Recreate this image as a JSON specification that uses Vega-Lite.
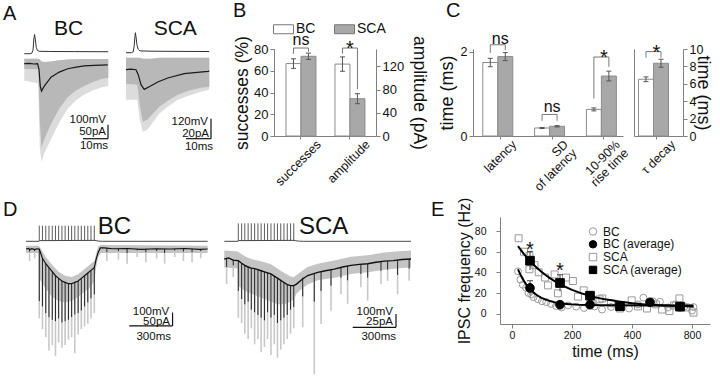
{
"$schema": "https://vega.github.io/schema/vega-lite/v6.json",
"background": "white",
"padding": {"left": 2, "top": 0, "right": 6, "bottom": 2},
"spacing": 0,
"bounds": "full",
"config": {
 "font": "Liberation Sans",
 "view": {"stroke": null},
 "axis": {"grid": false, "domainColor": "#808080", "tickColor": "#808080", "labelColor": "#111111", "titleColor": "#111111", "titleFontWeight": "normal", "labelFont": "Liberation Sans", "titleFont": "Liberation Sans", "tickSize": 4, "labelPadding": 2},
 "axisBand": {"labelAngle": -45, "labelAlign": "right", "labelBaseline": "middle", "labelOffset": 16},
 "title": {"fontWeight": "normal", "fontSize": 20, "anchor": "start", "frame": "group", "font": "Liberation Sans", "baseline": "alphabetic", "color": "#111111"},
 "legend": {"labelFont": "Liberation Sans", "labelColor": "#111111"},
 "text": {"font": "Liberation Sans", "color": "#111111"}
},
"resolve": {"scale": {"fill": "independent", "stroke": "independent", "shape": "independent"}},
"datasets": {
 "aBCband": [{"t":0,"hi":18,"lo":-18,"lo2":-60},{"t":5.6,"hi":18,"lo":-20,"lo2":-70},{"t":6.2,"hi":15,"lo":-200,"lo2":-300},{"t":6.9,"hi":8,"lo":-300,"lo2":-351},{"t":8.0,"hi":6,"lo":-270,"lo2":-320},{"t":10.7,"hi":8,"lo":-215,"lo2":-270},{"t":14.0,"hi":12,"lo":-160,"lo2":-210},{"t":17.4,"hi":15,"lo":-120,"lo2":-160},{"t":20.8,"hi":16,"lo":-95,"lo2":-130},{"t":24.0,"hi":17,"lo":-80,"lo2":-110},{"t":27.5,"hi":17,"lo":-65,"lo2":-95},{"t":30.8,"hi":17,"lo":-55,"lo2":-85},{"t":33.6,"hi":17,"lo":-50,"lo2":-80}],
 "aBCavg": [{"t":0,"v":0},{"t":2,"v":1},{"t":4,"v":-1},{"t":5.3,"v":0},{"t":5.9,"v":-20},{"t":6.4,"v":-80},{"t":6.9,"v":-98},{"t":8,"v":-80},{"t":10.7,"v":-48},{"t":14,"v":-30},{"t":17.4,"v":-18},{"t":20.8,"v":-12},{"t":24,"v":-8},{"t":28,"v":-6},{"t":33.4,"v":-4}],
 "aBCap": [{"t":0,"v":-65},{"t":2.4,"v":-65},{"t":3.0,"v":-62},{"t":3.5,"v":-40},{"t":3.85,"v":40},{"t":4.1,"v":72},{"t":4.4,"v":40},{"t":4.8,"v":-20},{"t":5.3,"v":-42},{"t":6,"v":-48},{"t":10,"v":-49},{"t":20,"v":-50},{"t":33.6,"v":-51}],
 "aBCbar": [{"t":23.5,"v":-267.9,"t2":33.5,"v2":-267.9},{"t":33.5,"v":-267.9,"t2":33.5,"v2":-217.9}],
 "aBClab": [{"label":"100mV","t":32.7,"v":-210.7},{"label":"50pA","t":32.7,"v":-255.7},{"label":"10ms","t":33.5,"v":-304.6}],
 "aSCAband": [{"t":0,"hi":12,"lo":-14,"lo2":-30},{"t":4.5,"hi":12,"lo":-15,"lo2":-30},{"t":5.5,"hi":12,"lo":-35,"lo2":-50},{"t":6.7,"hi":11,"lo":-52,"lo2":-62},{"t":8.5,"hi":11,"lo":-50,"lo2":-60},{"t":10,"hi":11,"lo":-46,"lo2":-55},{"t":13.3,"hi":12,"lo":-37,"lo2":-44},{"t":16.7,"hi":12,"lo":-31,"lo2":-37},{"t":20.7,"hi":12,"lo":-25,"lo2":-30},{"t":25,"hi":12,"lo":-21,"lo2":-26},{"t":29.9,"hi":12,"lo":-18,"lo2":-22},{"t":33.3,"hi":12,"lo":-17,"lo2":-20}],
 "aSCAavg": [{"t":0,"v":0},{"t":2,"v":0.5},{"t":4,"v":0},{"t":4.9,"v":-5},{"t":6,"v":-15},{"t":7.3,"v":-19.7},{"t":9.3,"v":-17},{"t":12.7,"v":-12.3},{"t":16.7,"v":-8.3},{"t":23.3,"v":-4},{"t":32.7,"v":-1.7},{"t":33.3,"v":-1.5}],
 "aSCAap": [{"t":0,"v":-65},{"t":2.2,"v":-65},{"t":2.9,"v":-60},{"t":3.3,"v":-20},{"t":3.55,"v":30},{"t":3.75,"v":55},{"t":4.0,"v":30},{"t":4.4,"v":-20},{"t":4.9,"v":-45},{"t":5.5,"v":-54},{"t":10,"v":-56},{"t":20,"v":-57},{"t":33.3,"v":-58}],
 "aSCAbar": [{"t":24,"v":-69,"t2":34,"v2":-69},{"t":34,"v":-69,"t2":34,"v2":-49}],
 "aSCAlab": [{"label":"120mV","t":32.8,"v":-55.3},{"label":"20pA","t":33.2,"v":-67.3},{"label":"10ms","t":34.8,"v":-80.3}],
 "dBCband": [{"t":0,"hi":12,"lo":-15},{"t":90,"hi":12,"lo":-15},{"t":92,"hi":10,"lo":-110},{"t":137,"hi":-30,"lo":-150},{"t":182,"hi":-60,"lo":-180},{"t":226,"hi":-85,"lo":-195},{"t":271,"hi":-100,"lo":-200},{"t":316,"hi":-105,"lo":-195},{"t":361,"hi":-95,"lo":-180},{"t":406,"hi":-75,"lo":-160},{"t":450,"hi":-55,"lo":-140},{"t":473,"hi":-45,"lo":-120},{"t":485,"hi":-20,"lo":-70},{"t":500,"hi":10,"lo":-30},{"t":520,"hi":15,"lo":-15},{"t":1258,"hi":12,"lo":-15}],
 "dBCev": [{"t":92,"L":0,"P":-195,"G":-260},{"t":114,"L":-35,"P":-215,"G":-300},{"t":137,"L":-55,"P":-240,"G":-330},{"t":159,"L":-70,"P":-255,"G":-380},{"t":182,"L":-85,"P":-265,"G":-360},{"t":204,"L":-100,"P":-270,"G":-400},{"t":226,"L":-110,"P":-260,"G":-350},{"t":249,"L":-120,"P":-275,"G":-370},{"t":271,"L":-125,"P":-270,"G":-360},{"t":294,"L":-130,"P":-265,"G":-340},{"t":316,"L":-130,"P":-255,"G":-330},{"t":338,"L":-125,"P":-245,"G":-390},{"t":361,"L":-120,"P":-240,"G":-320},{"t":383,"L":-110,"P":-230,"G":-300},{"t":406,"L":-100,"P":-215,"G":-290},{"t":428,"L":-90,"P":-200,"G":-280},{"t":450,"L":-80,"P":-185,"G":-260},{"t":473,"L":-70,"P":-170,"G":-240},{"t":25,"L":0,"P":-10,"G":-45},{"t":60,"L":0,"P":-8,"G":-35},{"t":560,"L":2,"P":-12,"G":-45},{"t":640,"L":0,"P":-8,"G":-40},{"t":700,"L":1,"P":-15,"G":-55},{"t":770,"L":0,"P":-5,"G":-30},{"t":830,"L":0,"P":-12,"G":-50},{"t":905,"L":1,"P":-8,"G":-35},{"t":960,"L":0,"P":-15,"G":-55},{"t":1030,"L":0,"P":-6,"G":-30},{"t":1090,"L":1,"P":-10,"G":-45},{"t":1150,"L":0,"P":-12,"G":-50},{"t":1210,"L":0,"P":-8,"G":-35}],
 "dBCline": [{"t":0,"v":0},{"t":20,"v":2},{"t":25,"v":-3},{"t":40,"v":1},{"t":60,"v":-2},{"t":75,"v":1},{"t":90,"v":0},{"t":92,"v":0},{"t":114,"v":-35},{"t":137,"v":-55},{"t":159,"v":-70},{"t":182,"v":-85},{"t":204,"v":-100},{"t":226,"v":-110},{"t":249,"v":-120},{"t":271,"v":-125},{"t":294,"v":-130},{"t":316,"v":-130},{"t":338,"v":-125},{"t":361,"v":-120},{"t":383,"v":-110},{"t":406,"v":-100},{"t":428,"v":-90},{"t":450,"v":-80},{"t":473,"v":-70},{"t":485,"v":-40},{"t":500,"v":-12},{"t":515,"v":4},{"t":540,"v":4},{"t":600,"v":1},{"t":700,"v":2},{"t":800,"v":-1},{"t":900,"v":1},{"t":1000,"v":0},{"t":1100,"v":2},{"t":1200,"v":-1},{"t":1258,"v":0}],
 "dBCap": [{"t":0,"v":-65},{"t":90,"v":-65},{"t":92,"v":-60},{"t":473,"v":-58},{"t":485,"v":-60},{"t":500,"v":-63},{"t":530,"v":-65},{"t":1258,"v":-65}],
 "dBCspk": [{"t":92},{"t":114},{"t":137},{"t":159},{"t":182},{"t":204},{"t":226},{"t":249},{"t":271},{"t":294},{"t":316},{"t":338},{"t":361},{"t":383},{"t":406},{"t":428},{"t":450},{"t":473}],
 "dBCbar": [{"t":715,"v":-288,"t2":1015,"v2":-288},{"t":1015,"v":-288,"t2":1015,"v2":-238}],
 "dBClab": [{"label":"100mV","t":992,"v":-247},{"label":"50pA","t":997,"v":-283},{"label":"300ms","t":1004,"v":-340}],
 "dSCAband": [{"t":0,"hi":16,"lo":-16},{"t":95,"hi":14,"lo":-18},{"t":97,"hi":13,"lo":-50},{"t":142,"hi":5,"lo":-60},{"t":187,"hi":0,"lo":-65},{"t":233,"hi":-3,"lo":-70},{"t":278,"hi":-6,"lo":-75},{"t":323,"hi":-10,"lo":-80},{"t":368,"hi":-18,"lo":-85},{"t":413,"hi":-26,"lo":-85},{"t":459,"hi":-33,"lo":-80},{"t":481,"hi":-34,"lo":-75},{"t":500,"hi":-30,"lo":-65},{"t":540,"hi":-22,"lo":-55},{"t":577,"hi":-15,"lo":-48},{"t":647,"hi":-9,"lo":-40},{"t":762,"hi":-3,"lo":-35},{"t":877,"hi":4,"lo":-28},{"t":993,"hi":7,"lo":-25},{"t":1108,"hi":12,"lo":-20},{"t":1230,"hi":15,"lo":-17},{"t":1293,"hi":16,"lo":-16}],
 "dSCAev": [{"t":97,"L":-3,"P":-60,"G":-110},{"t":120,"L":-8,"P":-75,"G":-120},{"t":142,"L":-12,"P":-85,"G":-140},{"t":165,"L":-15,"P":-80,"G":-150},{"t":187,"L":-17,"P":-95,"G":-130},{"t":210,"L":-18,"P":-100,"G":-160},{"t":233,"L":-20,"P":-105,"G":-150},{"t":255,"L":-22,"P":-110,"G":-175},{"t":278,"L":-24,"P":-115,"G":-165},{"t":300,"L":-26,"P":-100,"G":-150},{"t":323,"L":-28,"P":-110,"G":-180},{"t":346,"L":-32,"P":-105,"G":-160},{"t":368,"L":-36,"P":-120,"G":-185},{"t":391,"L":-40,"P":-115,"G":-170},{"t":413,"L":-44,"P":-110,"G":-160},{"t":436,"L":-48,"P":-105,"G":-150},{"t":459,"L":-50,"P":-95,"G":-140},{"t":481,"L":-50,"P":-90,"G":-130},{"t":16,"L":0,"P":-15,"G":-47},{"t":62,"L":-1,"P":-12,"G":-34},{"t":543,"L":-35,"P":-70,"G":-128},{"t":623,"L":-28,"P":-80,"G":-216},{"t":670,"L":-24,"P":-60,"G":-122},{"t":739,"L":-20,"P":-50,"G":-97},{"t":808,"L":-15,"P":-35,"G":-66},{"t":854,"L":-13,"P":-40,"G":-84},{"t":946,"L":-10,"P":-28,"G":-53},{"t":993,"L":-9,"P":-35,"G":-78},{"t":1085,"L":-5,"P":-22,"G":-47},{"t":1131,"L":-4,"P":-20,"G":-41},{"t":1200,"L":-3,"P":-30,"G":-66},{"t":1280,"L":0,"P":-18,"G":-41}],
 "dSCAline": [{"t":0,"v":0},{"t":30,"v":2},{"t":60,"v":-2},{"t":97,"v":-3},{"t":120,"v":-8},{"t":142,"v":-12},{"t":165,"v":-15},{"t":187,"v":-17},{"t":210,"v":-18},{"t":233,"v":-20},{"t":255,"v":-22},{"t":278,"v":-24},{"t":300,"v":-26},{"t":323,"v":-28},{"t":346,"v":-32},{"t":368,"v":-36},{"t":391,"v":-40},{"t":413,"v":-44},{"t":436,"v":-48},{"t":459,"v":-50},{"t":481,"v":-50},{"t":500,"v":-47},{"t":540,"v":-38},{"t":577,"v":-31},{"t":647,"v":-25},{"t":700,"v":-22},{"t":762,"v":-19},{"t":820,"v":-15},{"t":877,"v":-12},{"t":935,"v":-10},{"t":993,"v":-9},{"t":1050,"v":-6},{"t":1108,"v":-4},{"t":1170,"v":-3},{"t":1230,"v":-1},{"t":1293,"v":0}],
 "dSCAap": [{"t":0,"v":-65},{"t":95,"v":-65},{"t":97,"v":-60},{"t":481,"v":-58},{"t":495,"v":-61},{"t":520,"v":-64},{"t":550,"v":-65},{"t":1293,"v":-65}],
 "dSCAspk": [{"t":97},{"t":120},{"t":142},{"t":165},{"t":187},{"t":210},{"t":233},{"t":255},{"t":278},{"t":300},{"t":323},{"t":346},{"t":368},{"t":391},{"t":413},{"t":436},{"t":459},{"t":481}],
 "dSCAbar": [{"t":889,"v":-128.1,"t2":1189,"v2":-128.1},{"t":1189,"v":-128.1,"t2":1189,"v2":-103.1}],
 "dSCAlab": [{"label":"100mV","t":1168,"v":-104.5},{"label":"25pA","t":1168,"v":-124.5},{"label":"300ms","t":1189,"v":-152}],
 "bSucc": [{"cat":"successes","grp":"BC","mean":66.6,"lo":62.2,"hi":71.0},{"cat":"successes","grp":"SCA","mean":73.3,"lo":70.4,"hi":76.2}],
 "bAmp": [{"cat":"amplitude","grp":"BC","mean":124,"lo":111.6,"hi":136.4},{"cat":"amplitude","grp":"SCA","mean":64.3,"lo":55.7,"hi":72.9}],
 "bBr": [{"id":"s","cat":"successes","grp":"BC","v":75.7,"ord":1},{"id":"s","cat":"successes","grp":"BC","v":80.9,"ord":2},{"id":"s","cat":"successes","grp":"SCA","v":80.9,"ord":3},{"id":"s","cat":"successes","grp":"SCA","v":77.5,"ord":4},{"id":"a","cat":"amplitude","grp":"BC","v":75.7,"ord":1},{"id":"a","cat":"amplitude","grp":"BC","v":80.9,"ord":2},{"id":"a","cat":"amplitude","grp":"SCA","v":80.9,"ord":3},{"id":"a","cat":"amplitude","grp":"SCA","v":43.2,"ord":4}],
 "bSig": [{"cat":"successes","label":"ns","v":83.4},{"cat":"amplitude","label":"*","v":74.1}],
 "c1Bars": [{"cat":"latency","grp":"BC","mean":1.74,"lo":1.64,"hi":1.84},{"cat":"latency","grp":"SCA","mean":1.88,"lo":1.785,"hi":1.975},{"cat":"SD of latency","grp":"BC","mean":0.19,"lo":0.178,"hi":0.202},{"cat":"SD of latency","grp":"SCA","mean":0.23,"lo":0.215,"hi":0.245},{"cat":"10-90% rise time","grp":"BC","mean":0.63,"lo":0.595,"hi":0.665},{"cat":"10-90% rise time","grp":"SCA","mean":1.42,"lo":1.305,"hi":1.535}],
 "c1Br": [{"id":"l","cat":"latency","grp":"BC","v":1.97,"ord":1},{"id":"l","cat":"latency","grp":"BC","v":2.16,"ord":2},{"id":"l","cat":"latency","grp":"SCA","v":2.16,"ord":3},{"id":"l","cat":"latency","grp":"SCA","v":2.03,"ord":4},{"id":"s","cat":"SD of latency","grp":"BC","v":0.36,"ord":1},{"id":"s","cat":"SD of latency","grp":"BC","v":0.51,"ord":2},{"id":"s","cat":"SD of latency","grp":"SCA","v":0.51,"ord":3},{"id":"s","cat":"SD of latency","grp":"SCA","v":0.36,"ord":4},{"id":"r","cat":"10-90% rise time","grp":"BC","v":0.89,"ord":1},{"id":"r","cat":"10-90% rise time","grp":"BC","v":1.87,"ord":2},{"id":"r","cat":"10-90% rise time","grp":"SCA","v":1.87,"ord":3},{"id":"r","cat":"10-90% rise time","grp":"SCA","v":1.64,"ord":4}],
 "c1Sig": [{"cat":"latency","label":"ns","v":2.186},{"cat":"SD of latency","label":"ns","v":0.568},{"cat":"10-90% rise time","label":"*","v":1.71}],
 "c2Bars": [{"cat":"τ decay","grp":"BC","mean":6.52,"lo":6.25,"hi":6.79},{"cat":"τ decay","grp":"SCA","mean":8.36,"lo":7.9,"hi":8.82}],
 "c2Br": [{"id":"t","cat":"τ decay","grp":"BC","v":9.0,"ord":1},{"id":"t","cat":"τ decay","grp":"BC","v":9.7,"ord":2},{"id":"t","cat":"τ decay","grp":"SCA","v":9.7,"ord":3},{"id":"t","cat":"τ decay","grp":"SCA","v":9.0,"ord":4}],
 "c2Sig": [{"cat":"τ decay","label":"*","v":8.89}],
 "eScatter": [{"series":"BC","t":20,"v":41},{"series":"BC","t":28,"v":33},{"series":"BC","t":36,"v":28},{"series":"BC","t":47,"v":25},{"series":"BC","t":55,"v":20},{"series":"BC","t":64,"v":18.7},{"series":"BC","t":72,"v":16},{"series":"BC","t":86,"v":14},{"series":"BC","t":100,"v":12},{"series":"BC","t":114,"v":11.2},{"series":"BC","t":130,"v":9.5},{"series":"BC","t":147,"v":7.4},{"series":"BC","t":165,"v":6},{"series":"BC","t":187,"v":8},{"series":"BC","t":214,"v":6.8},{"series":"BC","t":240,"v":5.5},{"series":"BC","t":275,"v":7},{"series":"BC","t":300,"v":4},{"series":"BC","t":330,"v":6.5},{"series":"BC","t":360,"v":8.5},{"series":"BC","t":390,"v":5},{"series":"BC","t":420,"v":9},{"series":"BC","t":438,"v":15.5},{"series":"BC","t":470,"v":12},{"series":"BC","t":493,"v":11.6},{"series":"BC","t":520,"v":6},{"series":"BC","t":545,"v":9},{"series":"BC","t":575,"v":7},{"series":"BC","t":605,"v":6.4},{"series":"BC","t":600,"v":3},
  {"series":"SCA","t":22,"v":73},{"series":"SCA","t":40,"v":60},{"series":"SCA","t":58,"v":56},{"series":"SCA","t":58,"v":43},{"series":"SCA","t":75,"v":47},{"series":"SCA","t":89,"v":40},{"series":"SCA","t":110,"v":35},{"series":"SCA","t":120,"v":27.4},{"series":"SCA","t":142,"v":38},{"series":"SCA","t":153,"v":19.7},{"series":"SCA","t":180,"v":35},{"series":"SCA","t":203,"v":31.6},{"series":"SCA","t":220,"v":16.5},{"series":"SCA","t":239,"v":22.6},{"series":"SCA","t":265,"v":12},{"series":"SCA","t":292,"v":13.9},{"series":"SCA","t":301,"v":14.8},{"series":"SCA","t":330,"v":10},{"series":"SCA","t":360,"v":5},{"series":"SCA","t":399,"v":12.9},{"series":"SCA","t":420,"v":7},{"series":"SCA","t":450,"v":5},{"series":"SCA","t":480,"v":9},{"series":"SCA","t":500,"v":4},{"series":"SCA","t":525,"v":2.5},{"series":"SCA","t":540,"v":8},{"series":"SCA","t":558,"v":14.8},{"series":"SCA","t":580,"v":6},{"series":"SCA","t":605,"v":1}],
 "eFit": [{"series":"SCA","t":20,"v":65.4},{"series":"SCA","t":40,"v":57.7},{"series":"SCA","t":60,"v":51.0},{"series":"SCA","t":80,"v":45.1},{"series":"SCA","t":100,"v":40.1},{"series":"SCA","t":130,"v":33.7},{"series":"SCA","t":160,"v":28.5},{"series":"SCA","t":200,"v":23.0},{"series":"SCA","t":260,"v":17.2},{"series":"SCA","t":320,"v":13.4},{"series":"SCA","t":400,"v":10.2},{"series":"SCA","t":480,"v":8.4},{"series":"SCA","t":560,"v":7.4},{"series":"SCA","t":605,"v":7.0},
  {"series":"BC","t":20,"v":43},{"series":"BC","t":30,"v":36.7},{"series":"BC","t":40,"v":31.5},{"series":"BC","t":50,"v":27.2},{"series":"BC","t":60,"v":23.7},{"series":"BC","t":80,"v":18.5},{"series":"BC","t":100,"v":15.0},{"series":"BC","t":130,"v":11.9},{"series":"BC","t":160,"v":10.1},{"series":"BC","t":200,"v":9.0},{"series":"BC","t":260,"v":8.3},{"series":"BC","t":350,"v":8.05},{"series":"BC","t":450,"v":8.0},{"series":"BC","t":605,"v":8.0}],
 "eAvg": [{"series":"BC (average)","t":60,"v":24.9,"lo":17.9,"hi":31.9},{"series":"BC (average)","t":160,"v":8.7,"lo":7.2,"hi":10.2},{"series":"BC (average)","t":260,"v":8.7,"lo":7.7,"hi":9.7},{"series":"BC (average)","t":460,"v":11.0,"lo":9.5,"hi":12.5},{"series":"BC (average)","t":560,"v":6.8,"lo":5.8,"hi":7.8},{"series":"SCA (average)","t":60,"v":51.3,"lo":42.3,"hi":60.3},{"series":"SCA (average)","t":160,"v":29.7,"lo":21.7,"hi":37.7},{"series":"SCA (average)","t":260,"v":17.4,"lo":14.4,"hi":20.4},{"series":"SCA (average)","t":360,"v":7.2,"lo":5.2,"hi":9.2},{"series":"SCA (average)","t":560,"v":6.8,"lo":4.8,"hi":8.8}],
 "eStar": [{"t":60,"v":56.2},{"t":160,"v":35.8}]
},
"vconcat": [
{
"hconcat": [
 {
  "width": 96, "height": 148,
  "title": {"text": "A", "dx": -18, "offset": -6.1},
  "layer": [
   {"layer": [
    {"data": {"name": "aBCband"}, "mark": {"type": "area", "color": "#dcdcdc"},
     "encoding": {"x": {"field": "t", "type": "quantitative", "scale": {"domain": [-1.3, 37.1], "nice": false, "zero": false}, "axis": null},
      "y": {"field": "hi", "type": "quantitative", "scale": {"domain": [-476.1, 52.5], "nice": false, "zero": false}, "axis": null}, "y2": {"field": "lo2"}}},
    {"data": {"name": "aBCband"}, "mark": {"type": "area", "color": "#b8b8b8"},
     "encoding": {"x": {"field": "t", "type": "quantitative", "scale": {"domain": [-1.3, 37.1], "nice": false, "zero": false}, "axis": null},
      "y": {"field": "hi", "type": "quantitative", "scale": {"domain": [-476.1, 52.5], "nice": false, "zero": false}, "axis": null}, "y2": {"field": "lo"}}},
    {"data": {"name": "aBCavg"}, "mark": {"type": "line", "color": "#1a1a1a", "strokeWidth": 1.2},
     "encoding": {"x": {"field": "t", "type": "quantitative", "scale": {"domain": [-1.3, 37.1], "nice": false, "zero": false}, "axis": null},
      "y": {"field": "v", "type": "quantitative", "scale": {"domain": [-476.1, 52.5], "nice": false, "zero": false}, "axis": null}}},
    {"data": {"name": "aBCbar"}, "mark": {"type": "rule", "color": "#111111", "strokeWidth": 1.2},
     "encoding": {"x": {"field": "t", "type": "quantitative", "scale": {"domain": [-1.3, 37.1], "nice": false, "zero": false}, "axis": null}, "x2": {"field": "t2"},
      "y": {"field": "v", "type": "quantitative", "scale": {"domain": [-476.1, 52.5], "nice": false, "zero": false}, "axis": null}, "y2": {"field": "v2"}}},
    {"data": {"name": "aBClab"}, "mark": {"type": "text", "align": "right", "baseline": "alphabetic", "fontSize": 11.5},
     "encoding": {"x": {"field": "t", "type": "quantitative", "scale": {"domain": [-1.3, 37.1], "nice": false, "zero": false}, "axis": null},
      "y": {"field": "v", "type": "quantitative", "scale": {"domain": [-476.1, 52.5], "nice": false, "zero": false}, "axis": null}, "text": {"field": "label"}}},
    {"data": {"values": [{"label": "BC"}]}, "mark": {"type": "text", "align": "center", "baseline": "alphabetic", "fontSize": 21},
     "encoding": {"x": {"datum": 17.7, "type": "quantitative", "axis": null}, "y": {"datum": 102.5, "type": "quantitative", "axis": null}, "text": {"field": "label"}}}
   ]},
   {"data": {"name": "aBCap"}, "mark": {"type": "line", "color": "#333333", "strokeWidth": 1},
    "encoding": {"x": {"field": "t", "type": "quantitative", "scale": {"domain": [-1.3, 37.1], "nice": false, "zero": false}, "axis": null},
     "y": {"field": "v", "type": "quantitative", "scale": {"domain": [-1088.5, -31.4], "nice": false, "zero": false}, "axis": null}}}
  ],
  "resolve": {"scale": {"y": "independent"}}
 },
 {
  "width": 157, "height": 148,
  "layer": [
   {"layer": [
    {"data": {"name": "aSCAband"}, "mark": {"type": "area", "color": "#dcdcdc"},
     "encoding": {"x": {"field": "t", "type": "quantitative", "scale": {"domain": [-3.6, 59.2], "nice": false, "zero": false}, "axis": null},
      "y": {"field": "hi", "type": "quantitative", "scale": {"domain": [-127.3, 20.7], "nice": false, "zero": false}, "axis": null}, "y2": {"field": "lo2"}}},
    {"data": {"name": "aSCAband"}, "mark": {"type": "area", "color": "#b8b8b8"},
     "encoding": {"x": {"field": "t", "type": "quantitative", "scale": {"domain": [-3.6, 59.2], "nice": false, "zero": false}, "axis": null},
      "y": {"field": "hi", "type": "quantitative", "scale": {"domain": [-127.3, 20.7], "nice": false, "zero": false}, "axis": null}, "y2": {"field": "lo"}}},
    {"data": {"name": "aSCAavg"}, "mark": {"type": "line", "color": "#1a1a1a", "strokeWidth": 1.2},
     "encoding": {"x": {"field": "t", "type": "quantitative", "scale": {"domain": [-3.6, 59.2], "nice": false, "zero": false}, "axis": null},
      "y": {"field": "v", "type": "quantitative", "scale": {"domain": [-127.3, 20.7], "nice": false, "zero": false}, "axis": null}}},
    {"data": {"name": "aSCAbar"}, "mark": {"type": "rule", "color": "#111111", "strokeWidth": 1.2},
     "encoding": {"x": {"field": "t", "type": "quantitative", "scale": {"domain": [-3.6, 59.2], "nice": false, "zero": false}, "axis": null}, "x2": {"field": "t2"},
      "y": {"field": "v", "type": "quantitative", "scale": {"domain": [-127.3, 20.7], "nice": false, "zero": false}, "axis": null}, "y2": {"field": "v2"}}},
    {"data": {"name": "aSCAlab"}, "mark": {"type": "text", "align": "right", "baseline": "alphabetic", "fontSize": 11.5},
     "encoding": {"x": {"field": "t", "type": "quantitative", "scale": {"domain": [-3.6, 59.2], "nice": false, "zero": false}, "axis": null},
      "y": {"field": "v", "type": "quantitative", "scale": {"domain": [-127.3, 20.7], "nice": false, "zero": false}, "axis": null}, "text": {"field": "label"}}},
    {"data": {"values": [{"label": "SCA"}]}, "mark": {"type": "text", "align": "center", "baseline": "alphabetic", "fontSize": 21},
     "encoding": {"x": {"datum": 19.7, "type": "quantitative", "axis": null}, "y": {"datum": 34.7, "type": "quantitative", "axis": null}, "text": {"field": "label"}}}
   ]},
   {"data": {"name": "aSCAap"}, "mark": {"type": "line", "color": "#333333", "strokeWidth": 1},
    "encoding": {"x": {"field": "t", "type": "quantitative", "scale": {"domain": [-3.6, 59.2], "nice": false, "zero": false}, "axis": null},
     "y": {"field": "v", "type": "quantitative", "scale": {"domain": [-930.6, -42.8], "nice": false, "zero": false}, "axis": null}}}
  ],
  "resolve": {"scale": {"y": "independent"}}
 },
 {
  "width": 102, "height": 87,
  "title": {"text": "B", "dx": -41, "offset": -2},
  "layer": [
   {"layer": [
    {"data": {"name": "bSucc"}, "mark": {"type": "bar", "stroke": "#8c8c8c", "strokeWidth": 1},
     "encoding": {
      "x": {"field": "cat", "type": "nominal", "scale": {"domain": ["successes", "amplitude"], "paddingInner": 0.388, "paddingOuter": 0.235, "align": 0.52}, "axis": {"title": null, "labelAngle": -45, "labelAlign": "right", "labelBaseline": "middle", "labelOffset": 18, "labelFontSize": 12.5, "tickSize": 3, "labelPadding": 3}},
      "xOffset": {"field": "grp", "type": "nominal", "scale": {"domain": ["BC", "SCA"], "paddingInner": 0, "paddingOuter": 0}},
      "y": {"field": "mean", "type": "quantitative", "scale": {"domain": [0, 80], "nice": false}, "axis": {"orient": "left", "values": [0, 20, 40, 60, 80], "title": "successes (%)", "titleFontSize": 17.5, "labelFontSize": 13, "titlePadding": 2}},
      "fill": {"field": "grp", "type": "nominal", "scale": {"domain": ["BC", "SCA"], "range": ["#ffffff", "#a8a8a8"]}, "legend": {"orient": "none", "legendX": -1, "legendY": -30.5, "direction": "horizontal", "title": null, "symbolType": "M-1,-0.45H1V0.45H-1Z", "symbolSize": 400, "symbolStrokeColor": "#777777", "symbolStrokeWidth": 1, "labelFontSize": 14, "labelOffset": 2, "columnPadding": 16}}
     }},
    {"data": {"name": "bSucc"}, "mark": {"type": "rule", "color": "#555555"},
     "encoding": {
      "x": {"field": "cat", "type": "nominal", "scale": {"domain": ["successes", "amplitude"], "paddingInner": 0.388, "paddingOuter": 0.235, "align": 0.52}, "axis": {"title": null, "labelAngle": -45, "labelAlign": "right", "labelBaseline": "middle", "labelOffset": 18, "labelFontSize": 12.5, "tickSize": 3, "labelPadding": 3}},
      "xOffset": {"field": "grp", "type": "nominal", "scale": {"domain": ["BC", "SCA"], "paddingInner": 0, "paddingOuter": 0}},
      "y": {"field": "lo", "type": "quantitative", "scale": {"domain": [0, 80], "nice": false}, "axis": {"orient": "left", "values": [0, 20, 40, 60, 80], "title": "successes (%)", "titleFontSize": 17.5, "labelFontSize": 13, "titlePadding": 2}},
      "y2": {"field": "hi"}
     }},
    {"data": {"name": "bSucc"}, "mark": {"type": "tick", "orient": "horizontal", "size": 5, "thickness": 1, "color": "#555555", "opacity": 1},
     "encoding": {
      "x": {"field": "cat", "type": "nominal", "scale": {"domain": ["successes", "amplitude"], "paddingInner": 0.388, "paddingOuter": 0.235, "align": 0.52}, "axis": {"title": null, "labelAngle": -45, "labelAlign": "right", "labelBaseline": "middle", "labelOffset": 18, "labelFontSize": 12.5, "tickSize": 3, "labelPadding": 3}},
      "xOffset": {"field": "grp", "type": "nominal", "scale": {"domain": ["BC", "SCA"], "paddingInner": 0, "paddingOuter": 0}},
      "y": {"field": "lo", "type": "quantitative", "scale": {"domain": [0, 80], "nice": false}, "axis": {"orient": "left", "values": [0, 20, 40, 60, 80], "title": "successes (%)", "titleFontSize": 17.5, "labelFontSize": 13, "titlePadding": 2}}
     }},
    {"data": {"name": "bSucc"}, "mark": {"type": "tick", "orient": "horizontal", "size": 5, "thickness": 1, "color": "#555555", "opacity": 1},
     "encoding": {
      "x": {"field": "cat", "type": "nominal", "scale": {"domain": ["successes", "amplitude"], "paddingInner": 0.388, "paddingOuter": 0.235, "align": 0.52}, "axis": {"title": null, "labelAngle": -45, "labelAlign": "right", "labelBaseline": "middle", "labelOffset": 18, "labelFontSize": 12.5, "tickSize": 3, "labelPadding": 3}},
      "xOffset": {"field": "grp", "type": "nominal", "scale": {"domain": ["BC", "SCA"], "paddingInner": 0, "paddingOuter": 0}},
      "y": {"field": "hi", "type": "quantitative", "scale": {"domain": [0, 80], "nice": false}, "axis": {"orient": "left", "values": [0, 20, 40, 60, 80], "title": "successes (%)", "titleFontSize": 17.5, "labelFontSize": 13, "titlePadding": 2}}
     }},
    {"data": {"name": "bBr"}, "mark": {"type": "line", "color": "#777777", "strokeWidth": 1},
     "encoding": {
      "x": {"field": "cat", "type": "nominal", "scale": {"domain": ["successes", "amplitude"], "paddingInner": 0.388, "paddingOuter": 0.235, "align": 0.52}, "axis": {"title": null, "labelAngle": -45, "labelAlign": "right", "labelBaseline": "middle", "labelOffset": 18, "labelFontSize": 12.5, "tickSize": 3, "labelPadding": 3}},
      "xOffset": {"field": "grp", "type": "nominal", "scale": {"domain": ["BC", "SCA"], "paddingInner": 0, "paddingOuter": 0}},
      "y": {"field": "v", "type": "quantitative", "scale": {"domain": [0, 80], "nice": false}, "axis": {"orient": "left", "values": [0, 20, 40, 60, 80], "title": "successes (%)", "titleFontSize": 17.5, "labelFontSize": 13, "titlePadding": 2}},
      "order": {"field": "ord", "type": "quantitative"}, "detail": {"field": "id", "type": "nominal"}
     }},
    {"data": {"name": "bSig"}, "transform": [{"filter": "datum.label == 'ns'"}], "mark": {"type": "text", "baseline": "alphabetic", "fontSize": 16},
     "encoding": {
      "x": {"field": "cat", "type": "nominal", "scale": {"domain": ["successes", "amplitude"], "paddingInner": 0.388, "paddingOuter": 0.235, "align": 0.52}, "axis": {"title": null, "labelAngle": -45, "labelAlign": "right", "labelBaseline": "middle", "labelOffset": 18, "labelFontSize": 12.5, "tickSize": 3, "labelPadding": 3}},
      "y": {"field": "v", "type": "quantitative", "scale": {"domain": [0, 80], "nice": false}, "axis": {"orient": "left", "values": [0, 20, 40, 60, 80], "title": "successes (%)", "titleFontSize": 17.5, "labelFontSize": 13, "titlePadding": 2}},
      "text": {"field": "label"}
     }},
    {"data": {"name": "bSig"}, "transform": [{"filter": "datum.label == '*'"}], "mark": {"type": "text", "baseline": "alphabetic", "fontSize": 20},
     "encoding": {
      "x": {"field": "cat", "type": "nominal", "scale": {"domain": ["successes", "amplitude"], "paddingInner": 0.388, "paddingOuter": 0.235, "align": 0.52}, "axis": {"title": null, "labelAngle": -45, "labelAlign": "right", "labelBaseline": "middle", "labelOffset": 18, "labelFontSize": 12.5, "tickSize": 3, "labelPadding": 3}},
      "y": {"field": "v", "type": "quantitative", "scale": {"domain": [0, 80], "nice": false}, "axis": {"orient": "left", "values": [0, 20, 40, 60, 80], "title": "successes (%)", "titleFontSize": 17.5, "labelFontSize": 13, "titlePadding": 2}},
      "text": {"field": "label"}
     }}
   ]},
   {"layer": [
    {"data": {"name": "bAmp"}, "mark": {"type": "bar", "stroke": "#8c8c8c", "strokeWidth": 1},
     "encoding": {
      "x": {"field": "cat", "type": "nominal", "scale": {"domain": ["successes", "amplitude"], "paddingInner": 0.388, "paddingOuter": 0.235, "align": 0.52}, "axis": {"title": null, "labelAngle": -45, "labelAlign": "right", "labelBaseline": "middle", "labelOffset": 18, "labelFontSize": 12.5, "tickSize": 3, "labelPadding": 3}},
      "xOffset": {"field": "grp", "type": "nominal", "scale": {"domain": ["BC", "SCA"], "paddingInner": 0, "paddingOuter": 0}},
      "y": {"field": "mean", "type": "quantitative", "scale": {"domain": [0, 150], "nice": false}, "axis": {"orient": "right", "values": [0, 40, 80, 120], "title": "amplitude (pA)", "titleFontSize": 17.5, "labelFontSize": 13, "titlePadding": 6}},
      "fill": {"field": "grp", "type": "nominal", "scale": {"domain": ["BC", "SCA"], "range": ["#ffffff", "#a8a8a8"]}, "legend": {"orient": "none", "legendX": -1, "legendY": -30.5, "direction": "horizontal", "title": null, "symbolType": "M-1,-0.45H1V0.45H-1Z", "symbolSize": 400, "symbolStrokeColor": "#777777", "symbolStrokeWidth": 1, "labelFontSize": 14, "labelOffset": 2, "columnPadding": 16}}
     }},
    {"data": {"name": "bAmp"}, "mark": {"type": "rule", "color": "#555555"},
     "encoding": {
      "x": {"field": "cat", "type": "nominal", "scale": {"domain": ["successes", "amplitude"], "paddingInner": 0.388, "paddingOuter": 0.235, "align": 0.52}, "axis": {"title": null, "labelAngle": -45, "labelAlign": "right", "labelBaseline": "middle", "labelOffset": 18, "labelFontSize": 12.5, "tickSize": 3, "labelPadding": 3}},
      "xOffset": {"field": "grp", "type": "nominal", "scale": {"domain": ["BC", "SCA"], "paddingInner": 0, "paddingOuter": 0}},
      "y": {"field": "lo", "type": "quantitative", "scale": {"domain": [0, 150], "nice": false}, "axis": {"orient": "right", "values": [0, 40, 80, 120], "title": "amplitude (pA)", "titleFontSize": 17.5, "labelFontSize": 13, "titlePadding": 6}},
      "y2": {"field": "hi"}
     }},
    {"data": {"name": "bAmp"}, "mark": {"type": "tick", "orient": "horizontal", "size": 5, "thickness": 1, "color": "#555555", "opacity": 1},
     "encoding": {
      "x": {"field": "cat", "type": "nominal", "scale": {"domain": ["successes", "amplitude"], "paddingInner": 0.388, "paddingOuter": 0.235, "align": 0.52}, "axis": {"title": null, "labelAngle": -45, "labelAlign": "right", "labelBaseline": "middle", "labelOffset": 18, "labelFontSize": 12.5, "tickSize": 3, "labelPadding": 3}},
      "xOffset": {"field": "grp", "type": "nominal", "scale": {"domain": ["BC", "SCA"], "paddingInner": 0, "paddingOuter": 0}},
      "y": {"field": "lo", "type": "quantitative", "scale": {"domain": [0, 150], "nice": false}, "axis": {"orient": "right", "values": [0, 40, 80, 120], "title": "amplitude (pA)", "titleFontSize": 17.5, "labelFontSize": 13, "titlePadding": 6}}
     }},
    {"data": {"name": "bAmp"}, "mark": {"type": "tick", "orient": "horizontal", "size": 5, "thickness": 1, "color": "#555555", "opacity": 1},
     "encoding": {
      "x": {"field": "cat", "type": "nominal", "scale": {"domain": ["successes", "amplitude"], "paddingInner": 0.388, "paddingOuter": 0.235, "align": 0.52}, "axis": {"title": null, "labelAngle": -45, "labelAlign": "right", "labelBaseline": "middle", "labelOffset": 18, "labelFontSize": 12.5, "tickSize": 3, "labelPadding": 3}},
      "xOffset": {"field": "grp", "type": "nominal", "scale": {"domain": ["BC", "SCA"], "paddingInner": 0, "paddingOuter": 0}},
      "y": {"field": "hi", "type": "quantitative", "scale": {"domain": [0, 150], "nice": false}, "axis": {"orient": "right", "values": [0, 40, 80, 120], "title": "amplitude (pA)", "titleFontSize": 17.5, "labelFontSize": 13, "titlePadding": 6}}
     }}
   ]}
  ],
  "resolve": {"scale": {"y": "independent"}}
 },
 {"width": 97, "height": 87, "data": {"values": []}, "mark": "point"},
 {
  "width": 150, "height": 87,
  "title": {"text": "C", "dx": -27, "offset": 9.2},
  "layer": [
   {"data": {"name": "c1Bars"}, "mark": {"type": "bar", "stroke": "#8c8c8c", "strokeWidth": 1},
    "encoding": {
     "x": {"field": "cat", "type": "nominal", "scale": {"domain": ["latency", "SD of latency", "10-90% rise time"], "paddingInner": 0.324, "paddingOuter": 0.11, "align": 0.86}, "axis": {"title": null, "labelAngle": -45, "labelAlign": "right", "labelBaseline": "middle", "labelOffset": 14, "labelFontSize": 12.5, "tickSize": 3, "labelPadding": 3, "labelLineHeight": 12, "labelExpr": "datum.value == 'SD of latency' ? ['SD\u00a0\u00a0\u00a0\u00a0\u00a0', 'of latency'] : datum.value == '10-90% rise time' ? ['10-90%', 'rise time'] : datum.label"}},
     "xOffset": {"field": "grp", "type": "nominal", "scale": {"domain": ["BC", "SCA"], "paddingInner": 0, "paddingOuter": 0}},
     "y": {"field": "mean", "type": "quantitative", "scale": {"domain": [0, 2.06], "nice": false}, "axis": {"orient": "left", "values": [0, 1, 2], "format": "d", "title": "time (ms)", "titleFontSize": 18, "labelFontSize": 12.5, "titlePadding": 4}},
     "fill": {"field": "grp", "type": "nominal", "scale": {"domain": ["BC", "SCA"], "range": ["#ffffff", "#a8a8a8"]}, "legend": null}
    }},
   {"data": {"name": "c1Bars"}, "mark": {"type": "rule", "color": "#555555"},
    "encoding": {
     "x": {"field": "cat", "type": "nominal", "scale": {"domain": ["latency", "SD of latency", "10-90% rise time"], "paddingInner": 0.324, "paddingOuter": 0.11, "align": 0.86}, "axis": {"title": null, "labelAngle": -45, "labelAlign": "right", "labelBaseline": "middle", "labelOffset": 14, "labelFontSize": 12.5, "tickSize": 3, "labelPadding": 3, "labelLineHeight": 12, "labelExpr": "datum.value == 'SD of latency' ? ['SD\u00a0\u00a0\u00a0\u00a0\u00a0', 'of latency'] : datum.value == '10-90% rise time' ? ['10-90%', 'rise time'] : datum.label"}},
     "xOffset": {"field": "grp", "type": "nominal", "scale": {"domain": ["BC", "SCA"], "paddingInner": 0, "paddingOuter": 0}},
     "y": {"field": "lo", "type": "quantitative", "scale": {"domain": [0, 2.06], "nice": false}, "axis": {"orient": "left", "values": [0, 1, 2], "format": "d", "title": "time (ms)", "titleFontSize": 18, "labelFontSize": 12.5, "titlePadding": 4}},
     "y2": {"field": "hi"}
    }},
   {"data": {"name": "c1Bars"}, "mark": {"type": "tick", "orient": "horizontal", "size": 5, "thickness": 1, "color": "#555555", "opacity": 1},
    "encoding": {
     "x": {"field": "cat", "type": "nominal", "scale": {"domain": ["latency", "SD of latency", "10-90% rise time"], "paddingInner": 0.324, "paddingOuter": 0.11, "align": 0.86}, "axis": {"title": null, "labelAngle": -45, "labelAlign": "right", "labelBaseline": "middle", "labelOffset": 14, "labelFontSize": 12.5, "tickSize": 3, "labelPadding": 3, "labelLineHeight": 12, "labelExpr": "datum.value == 'SD of latency' ? ['SD\u00a0\u00a0\u00a0\u00a0\u00a0', 'of latency'] : datum.value == '10-90% rise time' ? ['10-90%', 'rise time'] : datum.label"}},
     "xOffset": {"field": "grp", "type": "nominal", "scale": {"domain": ["BC", "SCA"], "paddingInner": 0, "paddingOuter": 0}},
     "y": {"field": "lo", "type": "quantitative", "scale": {"domain": [0, 2.06], "nice": false}, "axis": {"orient": "left", "values": [0, 1, 2], "format": "d", "title": "time (ms)", "titleFontSize": 18, "labelFontSize": 12.5, "titlePadding": 4}}
    }},
   {"data": {"name": "c1Bars"}, "mark": {"type": "tick", "orient": "horizontal", "size": 5, "thickness": 1, "color": "#555555", "opacity": 1},
    "encoding": {
     "x": {"field": "cat", "type": "nominal", "scale": {"domain": ["latency", "SD of latency", "10-90% rise time"], "paddingInner": 0.324, "paddingOuter": 0.11, "align": 0.86}, "axis": {"title": null, "labelAngle": -45, "labelAlign": "right", "labelBaseline": "middle", "labelOffset": 14, "labelFontSize": 12.5, "tickSize": 3, "labelPadding": 3, "labelLineHeight": 12, "labelExpr": "datum.value == 'SD of latency' ? ['SD\u00a0\u00a0\u00a0\u00a0\u00a0', 'of latency'] : datum.value == '10-90% rise time' ? ['10-90%', 'rise time'] : datum.label"}},
     "xOffset": {"field": "grp", "type": "nominal", "scale": {"domain": ["BC", "SCA"], "paddingInner": 0, "paddingOuter": 0}},
     "y": {"field": "hi", "type": "quantitative", "scale": {"domain": [0, 2.06], "nice": false}, "axis": {"orient": "left", "values": [0, 1, 2], "format": "d", "title": "time (ms)", "titleFontSize": 18, "labelFontSize": 12.5, "titlePadding": 4}}
    }},
   {"data": {"name": "c1Br"}, "mark": {"type": "line", "color": "#777777", "strokeWidth": 1},
    "encoding": {
     "x": {"field": "cat", "type": "nominal", "scale": {"domain": ["latency", "SD of latency", "10-90% rise time"], "paddingInner": 0.324, "paddingOuter": 0.11, "align": 0.86}, "axis": {"title": null, "labelAngle": -45, "labelAlign": "right", "labelBaseline": "middle", "labelOffset": 14, "labelFontSize": 12.5, "tickSize": 3, "labelPadding": 3, "labelLineHeight": 12, "labelExpr": "datum.value == 'SD of latency' ? ['SD\u00a0\u00a0\u00a0\u00a0\u00a0', 'of latency'] : datum.value == '10-90% rise time' ? ['10-90%', 'rise time'] : datum.label"}},
     "xOffset": {"field": "grp", "type": "nominal", "scale": {"domain": ["BC", "SCA"], "paddingInner": 0, "paddingOuter": 0}},
     "y": {"field": "v", "type": "quantitative", "scale": {"domain": [0, 2.06], "nice": false}, "axis": {"orient": "left", "values": [0, 1, 2], "format": "d", "title": "time (ms)", "titleFontSize": 18, "labelFontSize": 12.5, "titlePadding": 4}},
     "order": {"field": "ord", "type": "quantitative"}, "detail": {"field": "id", "type": "nominal"}
    }},
   {"data": {"name": "c1Sig"}, "transform": [{"filter": "datum.label == 'ns'"}], "mark": {"type": "text", "baseline": "alphabetic", "fontSize": 16},
    "encoding": {
     "x": {"field": "cat", "type": "nominal", "scale": {"domain": ["latency", "SD of latency", "10-90% rise time"], "paddingInner": 0.324, "paddingOuter": 0.11, "align": 0.86}, "axis": {"title": null, "labelAngle": -45, "labelAlign": "right", "labelBaseline": "middle", "labelOffset": 14, "labelFontSize": 12.5, "tickSize": 3, "labelPadding": 3, "labelLineHeight": 12, "labelExpr": "datum.value == 'SD of latency' ? ['SD\u00a0\u00a0\u00a0\u00a0\u00a0', 'of latency'] : datum.value == '10-90% rise time' ? ['10-90%', 'rise time'] : datum.label"}},
     "y": {"field": "v", "type": "quantitative", "scale": {"domain": [0, 2.06], "nice": false}, "axis": {"orient": "left", "values": [0, 1, 2], "format": "d", "title": "time (ms)", "titleFontSize": 18, "labelFontSize": 12.5, "titlePadding": 4}},
     "text": {"field": "label"}
    }},
   {"data": {"name": "c1Sig"}, "transform": [{"filter": "datum.label == '*'"}], "mark": {"type": "text", "baseline": "alphabetic", "fontSize": 20},
    "encoding": {
     "x": {"field": "cat", "type": "nominal", "scale": {"domain": ["latency", "SD of latency", "10-90% rise time"], "paddingInner": 0.324, "paddingOuter": 0.11, "align": 0.86}, "axis": {"title": null, "labelAngle": -45, "labelAlign": "right", "labelBaseline": "middle", "labelOffset": 14, "labelFontSize": 12.5, "tickSize": 3, "labelPadding": 3, "labelLineHeight": 12, "labelExpr": "datum.value == 'SD of latency' ? ['SD\u00a0\u00a0\u00a0\u00a0\u00a0', 'of latency'] : datum.value == '10-90% rise time' ? ['10-90%', 'rise time'] : datum.label"}},
     "y": {"field": "v", "type": "quantitative", "scale": {"domain": [0, 2.06], "nice": false}, "axis": {"orient": "left", "values": [0, 1, 2], "format": "d", "title": "time (ms)", "titleFontSize": 18, "labelFontSize": 12.5, "titlePadding": 4}},
     "text": {"field": "label"}
    }}
  ]
 },
 {"width": 11, "height": 87, "data": {"values": []}, "mark": "point"},
 {
  "width": 49, "height": 87,
  "layer": [
   {"data": {"name": "c2Bars"}, "mark": {"type": "bar", "stroke": "#8c8c8c", "strokeWidth": 1},
    "encoding": {
     "x": {"field": "cat", "type": "nominal", "scale": {"domain": ["τ decay"], "paddingInner": 0, "paddingOuter": 0.188, "align": 0.336}, "axis": {"title": null, "labelAngle": -45, "labelAlign": "right", "labelBaseline": "middle", "labelOffset": 17, "labelFontSize": 12.5, "tickSize": 3, "labelPadding": 3}},
     "xOffset": {"field": "grp", "type": "nominal", "scale": {"domain": ["BC", "SCA"], "paddingInner": 0, "paddingOuter": 0}},
     "y": {"field": "mean", "type": "quantitative", "scale": {"domain": [0, 10], "nice": false}, "axis": {"orient": "right", "values": [0, 2, 4, 6, 8, 10], "title": "time (ms)", "titleFontSize": 18, "labelFontSize": 12.5, "titlePadding": -9}},
     "fill": {"field": "grp", "type": "nominal", "scale": {"domain": ["BC", "SCA"], "range": ["#ffffff", "#a8a8a8"]}, "legend": null}
    }},
   {"data": {"name": "c2Bars"}, "mark": {"type": "rule", "color": "#555555"},
    "encoding": {
     "x": {"field": "cat", "type": "nominal", "scale": {"domain": ["τ decay"], "paddingInner": 0, "paddingOuter": 0.188, "align": 0.336}, "axis": {"title": null, "labelAngle": -45, "labelAlign": "right", "labelBaseline": "middle", "labelOffset": 17, "labelFontSize": 12.5, "tickSize": 3, "labelPadding": 3}},
     "xOffset": {"field": "grp", "type": "nominal", "scale": {"domain": ["BC", "SCA"], "paddingInner": 0, "paddingOuter": 0}},
     "y": {"field": "lo", "type": "quantitative", "scale": {"domain": [0, 10], "nice": false}, "axis": {"orient": "left", "labels": false, "ticks": false, "title": null}},
     "y2": {"field": "hi"}
    }},
   {"data": {"name": "c2Bars"}, "mark": {"type": "tick", "orient": "horizontal", "size": 5, "thickness": 1, "color": "#555555", "opacity": 1},
    "encoding": {
     "x": {"field": "cat", "type": "nominal", "scale": {"domain": ["τ decay"], "paddingInner": 0, "paddingOuter": 0.188, "align": 0.336}, "axis": {"title": null, "labelAngle": -45, "labelAlign": "right", "labelBaseline": "middle", "labelOffset": 17, "labelFontSize": 12.5, "tickSize": 3, "labelPadding": 3}},
     "xOffset": {"field": "grp", "type": "nominal", "scale": {"domain": ["BC", "SCA"], "paddingInner": 0, "paddingOuter": 0}},
     "y": {"field": "lo", "type": "quantitative", "scale": {"domain": [0, 10], "nice": false}, "axis": null}
    }},
   {"data": {"name": "c2Bars"}, "mark": {"type": "tick", "orient": "horizontal", "size": 5, "thickness": 1, "color": "#555555", "opacity": 1},
    "encoding": {
     "x": {"field": "cat", "type": "nominal", "scale": {"domain": ["τ decay"], "paddingInner": 0, "paddingOuter": 0.188, "align": 0.336}, "axis": {"title": null, "labelAngle": -45, "labelAlign": "right", "labelBaseline": "middle", "labelOffset": 17, "labelFontSize": 12.5, "tickSize": 3, "labelPadding": 3}},
     "xOffset": {"field": "grp", "type": "nominal", "scale": {"domain": ["BC", "SCA"], "paddingInner": 0, "paddingOuter": 0}},
     "y": {"field": "hi", "type": "quantitative", "scale": {"domain": [0, 10], "nice": false}, "axis": null}
    }},
   {"data": {"name": "c2Br"}, "mark": {"type": "line", "color": "#777777", "strokeWidth": 1},
    "encoding": {
     "x": {"field": "cat", "type": "nominal", "scale": {"domain": ["τ decay"], "paddingInner": 0, "paddingOuter": 0.188, "align": 0.336}, "axis": {"title": null, "labelAngle": -45, "labelAlign": "right", "labelBaseline": "middle", "labelOffset": 17, "labelFontSize": 12.5, "tickSize": 3, "labelPadding": 3}},
     "xOffset": {"field": "grp", "type": "nominal", "scale": {"domain": ["BC", "SCA"], "paddingInner": 0, "paddingOuter": 0}},
     "y": {"field": "v", "type": "quantitative", "scale": {"domain": [0, 10], "nice": false}, "axis": null},
     "order": {"field": "ord", "type": "quantitative"}, "detail": {"field": "id", "type": "nominal"}
    }},
   {"data": {"name": "c2Sig"}, "mark": {"type": "text", "baseline": "alphabetic", "fontSize": 20},
    "encoding": {
     "x": {"field": "cat", "type": "nominal", "scale": {"domain": ["τ decay"], "paddingInner": 0, "paddingOuter": 0.188, "align": 0.336}, "axis": {"title": null, "labelAngle": -45, "labelAlign": "right", "labelBaseline": "middle", "labelOffset": 17, "labelFontSize": 12.5, "tickSize": 3, "labelPadding": 3}},
     "y": {"field": "v", "type": "quantitative", "scale": {"domain": [0, 10], "nice": false}, "axis": null},
     "text": {"field": "label"}
    }}
  ],
  "resolve": {"axis": {"y": "independent"}}
 }
],
"spacing": 0,
"bounds": "flush",
"resolve": {"scale": {"fill": "independent", "stroke": "independent", "shape": "independent"}}
},
{
"hconcat": [
 {
  "width": 192, "height": 158,
  "layer": [
   {"layer": [
    {"data": {"name": "dBCband"}, "mark": {"type": "area", "color": "#c4c4c4"},
     "encoding": {"x": {"field": "t", "type": "quantitative", "scale": {"domain": [-34.6, 1295], "nice": false, "zero": false}, "axis": null},
      "y": {"field": "hi", "type": "quantitative", "scale": {"domain": [-471.9, 119.9], "nice": false, "zero": false}, "axis": null}, "y2": {"field": "lo"}}},
    {"data": {"name": "dBCev"}, "mark": {"type": "rule", "color": "#c8c8c8", "strokeWidth": 1.6},
     "encoding": {"x": {"field": "t", "type": "quantitative", "scale": {"domain": [-34.6, 1295], "nice": false, "zero": false}, "axis": null},
      "y": {"field": "L", "type": "quantitative", "scale": {"domain": [-471.9, 119.9], "nice": false, "zero": false}, "axis": null}, "y2": {"field": "G"}}},
    {"data": {"name": "dBCline"}, "mark": {"type": "line", "color": "#111111", "strokeWidth": 1.2},
     "encoding": {"x": {"field": "t", "type": "quantitative", "scale": {"domain": [-34.6, 1295], "nice": false, "zero": false}, "axis": null},
      "y": {"field": "v", "type": "quantitative", "scale": {"domain": [-471.9, 119.9], "nice": false, "zero": false}, "axis": null}}},
    {"data": {"name": "dBCev"}, "mark": {"type": "rule", "color": "#111111", "strokeWidth": 0.9},
     "encoding": {"x": {"field": "t", "type": "quantitative", "scale": {"domain": [-34.6, 1295], "nice": false, "zero": false}, "axis": null},
      "y": {"field": "L", "type": "quantitative", "scale": {"domain": [-471.9, 119.9], "nice": false, "zero": false}, "axis": null}, "y2": {"field": "P"}}},
    {"data": {"name": "dBCbar"}, "mark": {"type": "rule", "color": "#111111", "strokeWidth": 1.2},
     "encoding": {"x": {"field": "t", "type": "quantitative", "scale": {"domain": [-34.6, 1295], "nice": false, "zero": false}, "axis": null}, "x2": {"field": "t2"},
      "y": {"field": "v", "type": "quantitative", "scale": {"domain": [-471.9, 119.9], "nice": false, "zero": false}, "axis": null}, "y2": {"field": "v2"}}},
    {"data": {"name": "dBClab"}, "mark": {"type": "text", "align": "right", "baseline": "alphabetic", "fontSize": 11.5},
     "encoding": {"x": {"field": "t", "type": "quantitative", "scale": {"domain": [-34.6, 1295], "nice": false, "zero": false}, "axis": null},
      "y": {"field": "v", "type": "quantitative", "scale": {"domain": [-471.9, 119.9], "nice": false, "zero": false}, "axis": null}, "text": {"field": "label"}}},
    {"data": {"values": [{"label": "BC"}]}, "mark": {"type": "text", "align": "left", "baseline": "alphabetic", "fontSize": 24},
     "encoding": {"x": {"datum": 496.5, "type": "quantitative", "axis": null}, "y": {"datum": 56.2, "type": "quantitative", "axis": null}, "text": {"field": "label"}}},
    {"data": {"values": [{"label": "D"}]}, "mark": {"type": "text", "align": "left", "baseline": "alphabetic", "fontSize": 20},
     "encoding": {"x": {"datum": -159.3, "type": "quantitative", "axis": null}, "y": {"datum": 124.8, "type": "quantitative", "axis": null}, "text": {"field": "label"}}}
   ]},
   {"layer": [
    {"data": {"name": "dBCap"}, "mark": {"type": "line", "color": "#333333", "strokeWidth": 0.9},
     "encoding": {"x": {"field": "t", "type": "quantitative", "scale": {"domain": [-34.6, 1295], "nice": false, "zero": false}, "axis": null},
      "y": {"field": "v", "type": "quantitative", "scale": {"domain": [-1070.3, 117.7], "nice": false, "zero": false}, "axis": null}}},
    {"data": {"name": "dBCspk"}, "mark": {"type": "rule", "color": "#333333", "strokeWidth": 0.8},
     "encoding": {"x": {"field": "t", "type": "quantitative", "scale": {"domain": [-34.6, 1295], "nice": false, "zero": false}, "axis": null},
      "y": {"datum": -60, "type": "quantitative", "scale": {"domain": [-1070.3, 117.7], "nice": false, "zero": false}, "axis": null}, "y2": {"datum": 52}}}
   ]}
  ],
  "resolve": {"scale": {"y": "independent"}}
 },
 {
  "width": 287, "height": 158,
  "layer": [
   {"layer": [
    {"data": {"name": "dSCAband"}, "mark": {"type": "area", "color": "#c4c4c4"},
     "encoding": {"x": {"field": "t", "type": "quantitative", "scale": {"domain": [-78.3, 1909.3], "nice": false, "zero": false}, "axis": null},
      "y": {"field": "hi", "type": "quantitative", "scale": {"domain": [-217.6, 78.8], "nice": false, "zero": false}, "axis": null}, "y2": {"field": "lo"}}},
    {"data": {"name": "dSCAev"}, "mark": {"type": "rule", "color": "#c8c8c8", "strokeWidth": 1.6},
     "encoding": {"x": {"field": "t", "type": "quantitative", "scale": {"domain": [-78.3, 1909.3], "nice": false, "zero": false}, "axis": null},
      "y": {"field": "L", "type": "quantitative", "scale": {"domain": [-217.6, 78.8], "nice": false, "zero": false}, "axis": null}, "y2": {"field": "G"}}},
    {"data": {"name": "dSCAline"}, "mark": {"type": "line", "color": "#111111", "strokeWidth": 1.4},
     "encoding": {"x": {"field": "t", "type": "quantitative", "scale": {"domain": [-78.3, 1909.3], "nice": false, "zero": false}, "axis": null},
      "y": {"field": "v", "type": "quantitative", "scale": {"domain": [-217.6, 78.8], "nice": false, "zero": false}, "axis": null}}},
    {"data": {"name": "dSCAev"}, "mark": {"type": "rule", "color": "#111111", "strokeWidth": 0.9},
     "encoding": {"x": {"field": "t", "type": "quantitative", "scale": {"domain": [-78.3, 1909.3], "nice": false, "zero": false}, "axis": null},
      "y": {"field": "L", "type": "quantitative", "scale": {"domain": [-217.6, 78.8], "nice": false, "zero": false}, "axis": null}, "y2": {"field": "P"}}},
    {"data": {"name": "dSCAbar"}, "mark": {"type": "rule", "color": "#111111", "strokeWidth": 1.2},
     "encoding": {"x": {"field": "t", "type": "quantitative", "scale": {"domain": [-78.3, 1909.3], "nice": false, "zero": false}, "axis": null}, "x2": {"field": "t2"},
      "y": {"field": "v", "type": "quantitative", "scale": {"domain": [-217.6, 78.8], "nice": false, "zero": false}, "axis": null}, "y2": {"field": "v2"}}},
    {"data": {"name": "dSCAlab"}, "mark": {"type": "text", "align": "right", "baseline": "alphabetic", "fontSize": 11.5},
     "encoding": {"x": {"field": "t", "type": "quantitative", "scale": {"domain": [-78.3, 1909.3], "nice": false, "zero": false}, "axis": null},
      "y": {"field": "v", "type": "quantitative", "scale": {"domain": [-217.6, 78.8], "nice": false, "zero": false}, "axis": null}, "text": {"field": "label"}}},
    {"data": {"values": [{"label": "SCA"}]}, "mark": {"type": "text", "align": "left", "baseline": "alphabetic", "fontSize": 24},
     "encoding": {"x": {"datum": 517, "type": "quantitative", "axis": null}, "y": {"datum": 46.9, "type": "quantitative", "axis": null}, "text": {"field": "label"}}}
   ]},
   {"layer": [
    {"data": {"name": "dSCAap"}, "mark": {"type": "line", "color": "#333333", "strokeWidth": 0.9},
     "encoding": {"x": {"field": "t", "type": "quantitative", "scale": {"domain": [-78.3, 1909.3], "nice": false, "zero": false}, "axis": null},
      "y": {"field": "v", "type": "quantitative", "scale": {"domain": [-1070.3, 117.7], "nice": false, "zero": false}, "axis": null}}},
    {"data": {"name": "dSCAspk"}, "mark": {"type": "rule", "color": "#333333", "strokeWidth": 0.8},
     "encoding": {"x": {"field": "t", "type": "quantitative", "scale": {"domain": [-78.3, 1909.3], "nice": false, "zero": false}, "axis": null},
      "y": {"datum": -60, "type": "quantitative", "scale": {"domain": [-1070.3, 117.7], "nice": false, "zero": false}, "axis": null}, "y2": {"datum": 70}}}
   ]}
  ],
  "resolve": {"scale": {"y": "independent"}}
 },
 {
  "width": 210, "height": 107,
  "layer": [
   {"data": {"name": "eScatter"}, "mark": {"type": "point", "strokeWidth": 1, "size": 48, "opacity": 1},
    "encoding": {
     "x": {"field": "t", "type": "quantitative", "scale": {"domain": [-40, 660], "nice": false, "zero": false}, "axis": {"values": [0, 200, 400, 600], "labelExpr": "datum.value == 600 ? '800' : datum.label", "title": "time (ms)", "titleFontSize": 16, "labelFontSize": 10.5, "titlePadding": 3}},
     "y": {"field": "v", "type": "quantitative", "scale": {"domain": [-10, 93.6], "nice": false, "zero": false}, "axis": {"values": [0, 20, 40, 60, 80], "title": "IPSC frequency (Hz)", "titleFontSize": 16, "labelFontSize": 10.5, "labelPadding": 10, "titlePadding": 2}},
     "shape": {"field": "series", "type": "nominal", "scale": {"domain": ["BC", "BC (average)", "SCA", "SCA (average)"], "range": ["circle", "circle", "square", "square"]}, "legend": {"orient": "none", "legendX": 87, "legendY": 8.5, "title": null, "labelFontSize": 12, "symbolSize": 55, "rowPadding": 0.8, "labelOffset": 4, "symbolStrokeWidth": 1}},
     "fill": {"field": "series", "type": "nominal", "scale": {"domain": ["BC", "BC (average)", "SCA", "SCA (average)"], "range": ["transparent", "#000000", "transparent", "#000000"]}, "legend": {"orient": "none", "legendX": 87, "legendY": 8.5, "title": null, "labelFontSize": 12, "symbolSize": 55, "rowPadding": 0.8, "labelOffset": 4, "symbolStrokeWidth": 1}},
     "stroke": {"field": "series", "type": "nominal", "scale": {"domain": ["BC", "BC (average)", "SCA", "SCA (average)"], "range": ["#9a9a9a", "#000000", "#9a9a9a", "#000000"]}, "legend": {"orient": "none", "legendX": 87, "legendY": 8.5, "title": null, "labelFontSize": 12, "symbolSize": 55, "rowPadding": 0.8, "labelOffset": 4, "symbolStrokeWidth": 1}}
    }},
   {"data": {"name": "eFit"}, "mark": {"type": "line", "color": "#000000", "strokeWidth": 2, "interpolate": "monotone"},
    "encoding": {
     "x": {"field": "t", "type": "quantitative", "scale": {"domain": [-40, 660], "nice": false, "zero": false}, "axis": {"values": [0, 200, 400, 600], "labelExpr": "datum.value == 600 ? '800' : datum.label", "title": "time (ms)", "titleFontSize": 16, "labelFontSize": 10.5, "titlePadding": 3}},
     "y": {"field": "v", "type": "quantitative", "scale": {"domain": [-10, 93.6], "nice": false, "zero": false}, "axis": {"values": [0, 20, 40, 60, 80], "title": "IPSC frequency (Hz)", "titleFontSize": 16, "labelFontSize": 10.5, "labelPadding": 10, "titlePadding": 2}},
     "detail": {"field": "series", "type": "nominal"}
    }},
   {"data": {"name": "eAvg"}, "mark": {"type": "rule", "color": "#444444", "strokeWidth": 1},
    "encoding": {
     "x": {"field": "t", "type": "quantitative", "scale": {"domain": [-40, 660], "nice": false, "zero": false}, "axis": {"values": [0, 200, 400, 600], "labelExpr": "datum.value == 600 ? '800' : datum.label", "title": "time (ms)", "titleFontSize": 16, "labelFontSize": 10.5, "titlePadding": 3}},
     "y": {"field": "lo", "type": "quantitative", "scale": {"domain": [-10, 93.6], "nice": false, "zero": false}, "axis": {"values": [0, 20, 40, 60, 80], "title": "IPSC frequency (Hz)", "titleFontSize": 16, "labelFontSize": 10.5, "labelPadding": 10, "titlePadding": 2}},
     "y2": {"field": "hi"}
    }},
   {"data": {"name": "eAvg"}, "mark": {"type": "tick", "orient": "horizontal", "size": 6, "thickness": 1, "color": "#444444", "opacity": 1},
    "encoding": {
     "x": {"field": "t", "type": "quantitative", "scale": {"domain": [-40, 660], "nice": false, "zero": false}, "axis": {"values": [0, 200, 400, 600], "labelExpr": "datum.value == 600 ? '800' : datum.label", "title": "time (ms)", "titleFontSize": 16, "labelFontSize": 10.5, "titlePadding": 3}},
     "y": {"field": "hi", "type": "quantitative", "scale": {"domain": [-10, 93.6], "nice": false, "zero": false}, "axis": {"values": [0, 20, 40, 60, 80], "title": "IPSC frequency (Hz)", "titleFontSize": 16, "labelFontSize": 10.5, "labelPadding": 10, "titlePadding": 2}}
    }},
   {"data": {"name": "eAvg"}, "mark": {"type": "point", "strokeWidth": 1, "size": 75, "opacity": 1},
    "encoding": {
     "x": {"field": "t", "type": "quantitative", "scale": {"domain": [-40, 660], "nice": false, "zero": false}, "axis": {"values": [0, 200, 400, 600], "labelExpr": "datum.value == 600 ? '800' : datum.label", "title": "time (ms)", "titleFontSize": 16, "labelFontSize": 10.5, "titlePadding": 3}},
     "y": {"field": "v", "type": "quantitative", "scale": {"domain": [-10, 93.6], "nice": false, "zero": false}, "axis": {"values": [0, 20, 40, 60, 80], "title": "IPSC frequency (Hz)", "titleFontSize": 16, "labelFontSize": 10.5, "labelPadding": 10, "titlePadding": 2}},
     "shape": {"field": "series", "type": "nominal", "scale": {"domain": ["BC", "BC (average)", "SCA", "SCA (average)"], "range": ["circle", "circle", "square", "square"]}, "legend": {"orient": "none", "legendX": 87, "legendY": 8.5, "title": null, "labelFontSize": 12, "symbolSize": 55, "rowPadding": 0.8, "labelOffset": 4, "symbolStrokeWidth": 1}},
     "fill": {"field": "series", "type": "nominal", "scale": {"domain": ["BC", "BC (average)", "SCA", "SCA (average)"], "range": ["transparent", "#000000", "transparent", "#000000"]}, "legend": {"orient": "none", "legendX": 87, "legendY": 8.5, "title": null, "labelFontSize": 12, "symbolSize": 55, "rowPadding": 0.8, "labelOffset": 4, "symbolStrokeWidth": 1}},
     "stroke": {"field": "series", "type": "nominal", "scale": {"domain": ["BC", "BC (average)", "SCA", "SCA (average)"], "range": ["#9a9a9a", "#000000", "#9a9a9a", "#000000"]}, "legend": {"orient": "none", "legendX": 87, "legendY": 8.5, "title": null, "labelFontSize": 12, "symbolSize": 55, "rowPadding": 0.8, "labelOffset": 4, "symbolStrokeWidth": 1}}
    }},
   {"data": {"name": "eStar"}, "mark": {"type": "text", "baseline": "alphabetic", "fontSize": 20, "text": "*"},
    "encoding": {
     "x": {"field": "t", "type": "quantitative", "scale": {"domain": [-40, 660], "nice": false, "zero": false}, "axis": {"values": [0, 200, 400, 600], "labelExpr": "datum.value == 600 ? '800' : datum.label", "title": "time (ms)", "titleFontSize": 16, "labelFontSize": 10.5, "titlePadding": 3}},
     "y": {"field": "v", "type": "quantitative", "scale": {"domain": [-10, 93.6], "nice": false, "zero": false}, "axis": {"values": [0, 20, 40, 60, 80], "title": "IPSC frequency (Hz)", "titleFontSize": 16, "labelFontSize": 10.5, "labelPadding": 10, "titlePadding": 2}}
    }},
   {"data": {"values": [{"label": "E"}]}, "mark": {"type": "text", "align": "left", "baseline": "alphabetic", "fontSize": 20},
    "encoding": {
     "x": {"datum": -270, "type": "quantitative", "scale": {"domain": [-40, 660], "nice": false, "zero": false}, "axis": {"values": [0, 200, 400, 600], "labelExpr": "datum.value == 600 ? '800' : datum.label", "title": "time (ms)", "titleFontSize": 16, "labelFontSize": 10.5, "titlePadding": 3}},
     "y": {"datum": 94.9, "type": "quantitative", "scale": {"domain": [-10, 93.6], "nice": false, "zero": false}, "axis": {"values": [0, 20, 40, 60, 80], "title": "IPSC frequency (Hz)", "titleFontSize": 16, "labelFontSize": 10.5, "labelPadding": 10, "titlePadding": 2}},
     "text": {"field": "label"}
    }}
  ]
 }
],
"spacing": 0,
"bounds": "flush",
"resolve": {"scale": {"fill": "independent", "stroke": "independent", "shape": "independent"}}
}
]
}
